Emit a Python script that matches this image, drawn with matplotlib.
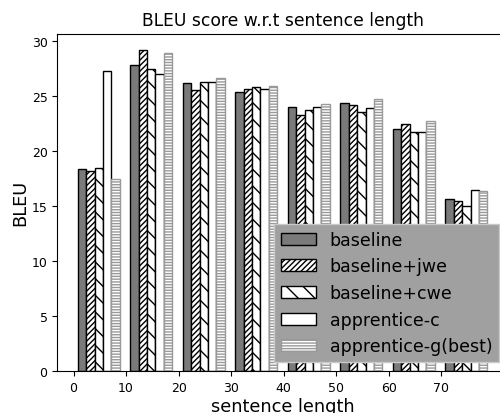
import matplotlib
matplotlib.use("Agg")
import matplotlib.pyplot as plt
import numpy as np

groups = [0, 10, 20, 30, 40, 50, 60, 70]
series_names = ["baseline", "baseline+jwe", "baseline+cwe", "apprentice-c", "apprentice-g(best)"]
baseline = [18.4, 27.8, 26.2, 25.4, 24.0, 24.4, 22.0, 15.6]
baseline_jwe = [18.15, 29.2, 25.5, 25.6, 23.3, 24.2, 22.5, 15.5]
baseline_cwe = [18.5, 27.45, 26.25, 25.8, 23.7, 23.55, 21.7, 15.0]
apprentice_c = [27.3, 27.0, 26.3, 25.6, 24.0, 23.9, 21.7, 16.5]
apprentice_g_best = [17.5, 28.9, 26.6, 25.9, 24.3, 24.7, 22.7, 16.35]
xticks = [0, 10, 20, 30, 40, 50, 60, 70]

series = [baseline, baseline_jwe, baseline_cwe, apprentice_c, apprentice_g_best]
styles = [
    dict(color="#7a7a7a", edgecolor="black", hatch=None),
    dict(color="white", edgecolor="black", hatch="//////"),
    dict(color="white", edgecolor="black", hatch="\\\\"),
    dict(color="white", edgecolor="black", hatch=None),
    dict(color="white", edgecolor="#999999", hatch="------"),
]

fig = plt.figure(figsize=(5.0, 4.14), dpi=100)
ax = fig.add_axes([0.1146, 0.1014, 0.901, 0.8147])

width = 1.6
g = np.array(groups, dtype=float)
for i, (vals, name, st) in enumerate(zip(series, series_names, styles)):
    ax.bar(g + width * (i + 1), vals, width, label=name, linewidth=1.0, **st)

ax.set_xticks(xticks)
ax.set_yticks([0, 5, 10, 15, 20, 25, 30])
ax.tick_params(labelsize=9)
ax.set_title("BLEU score w.r.t sentence length", fontsize=12.3)
ax.set_xlabel("sentence length", fontsize=12.8, labelpad=2)
ax.set_ylabel("BLEU", fontsize=12.8, labelpad=2)
leg = ax.legend(loc="lower right", fontsize=12.5, fancybox=False, framealpha=1.0,
                facecolor="#a0a0a0", edgecolor="#c8c8c8")
fig.savefig("out.png", dpi=100)
